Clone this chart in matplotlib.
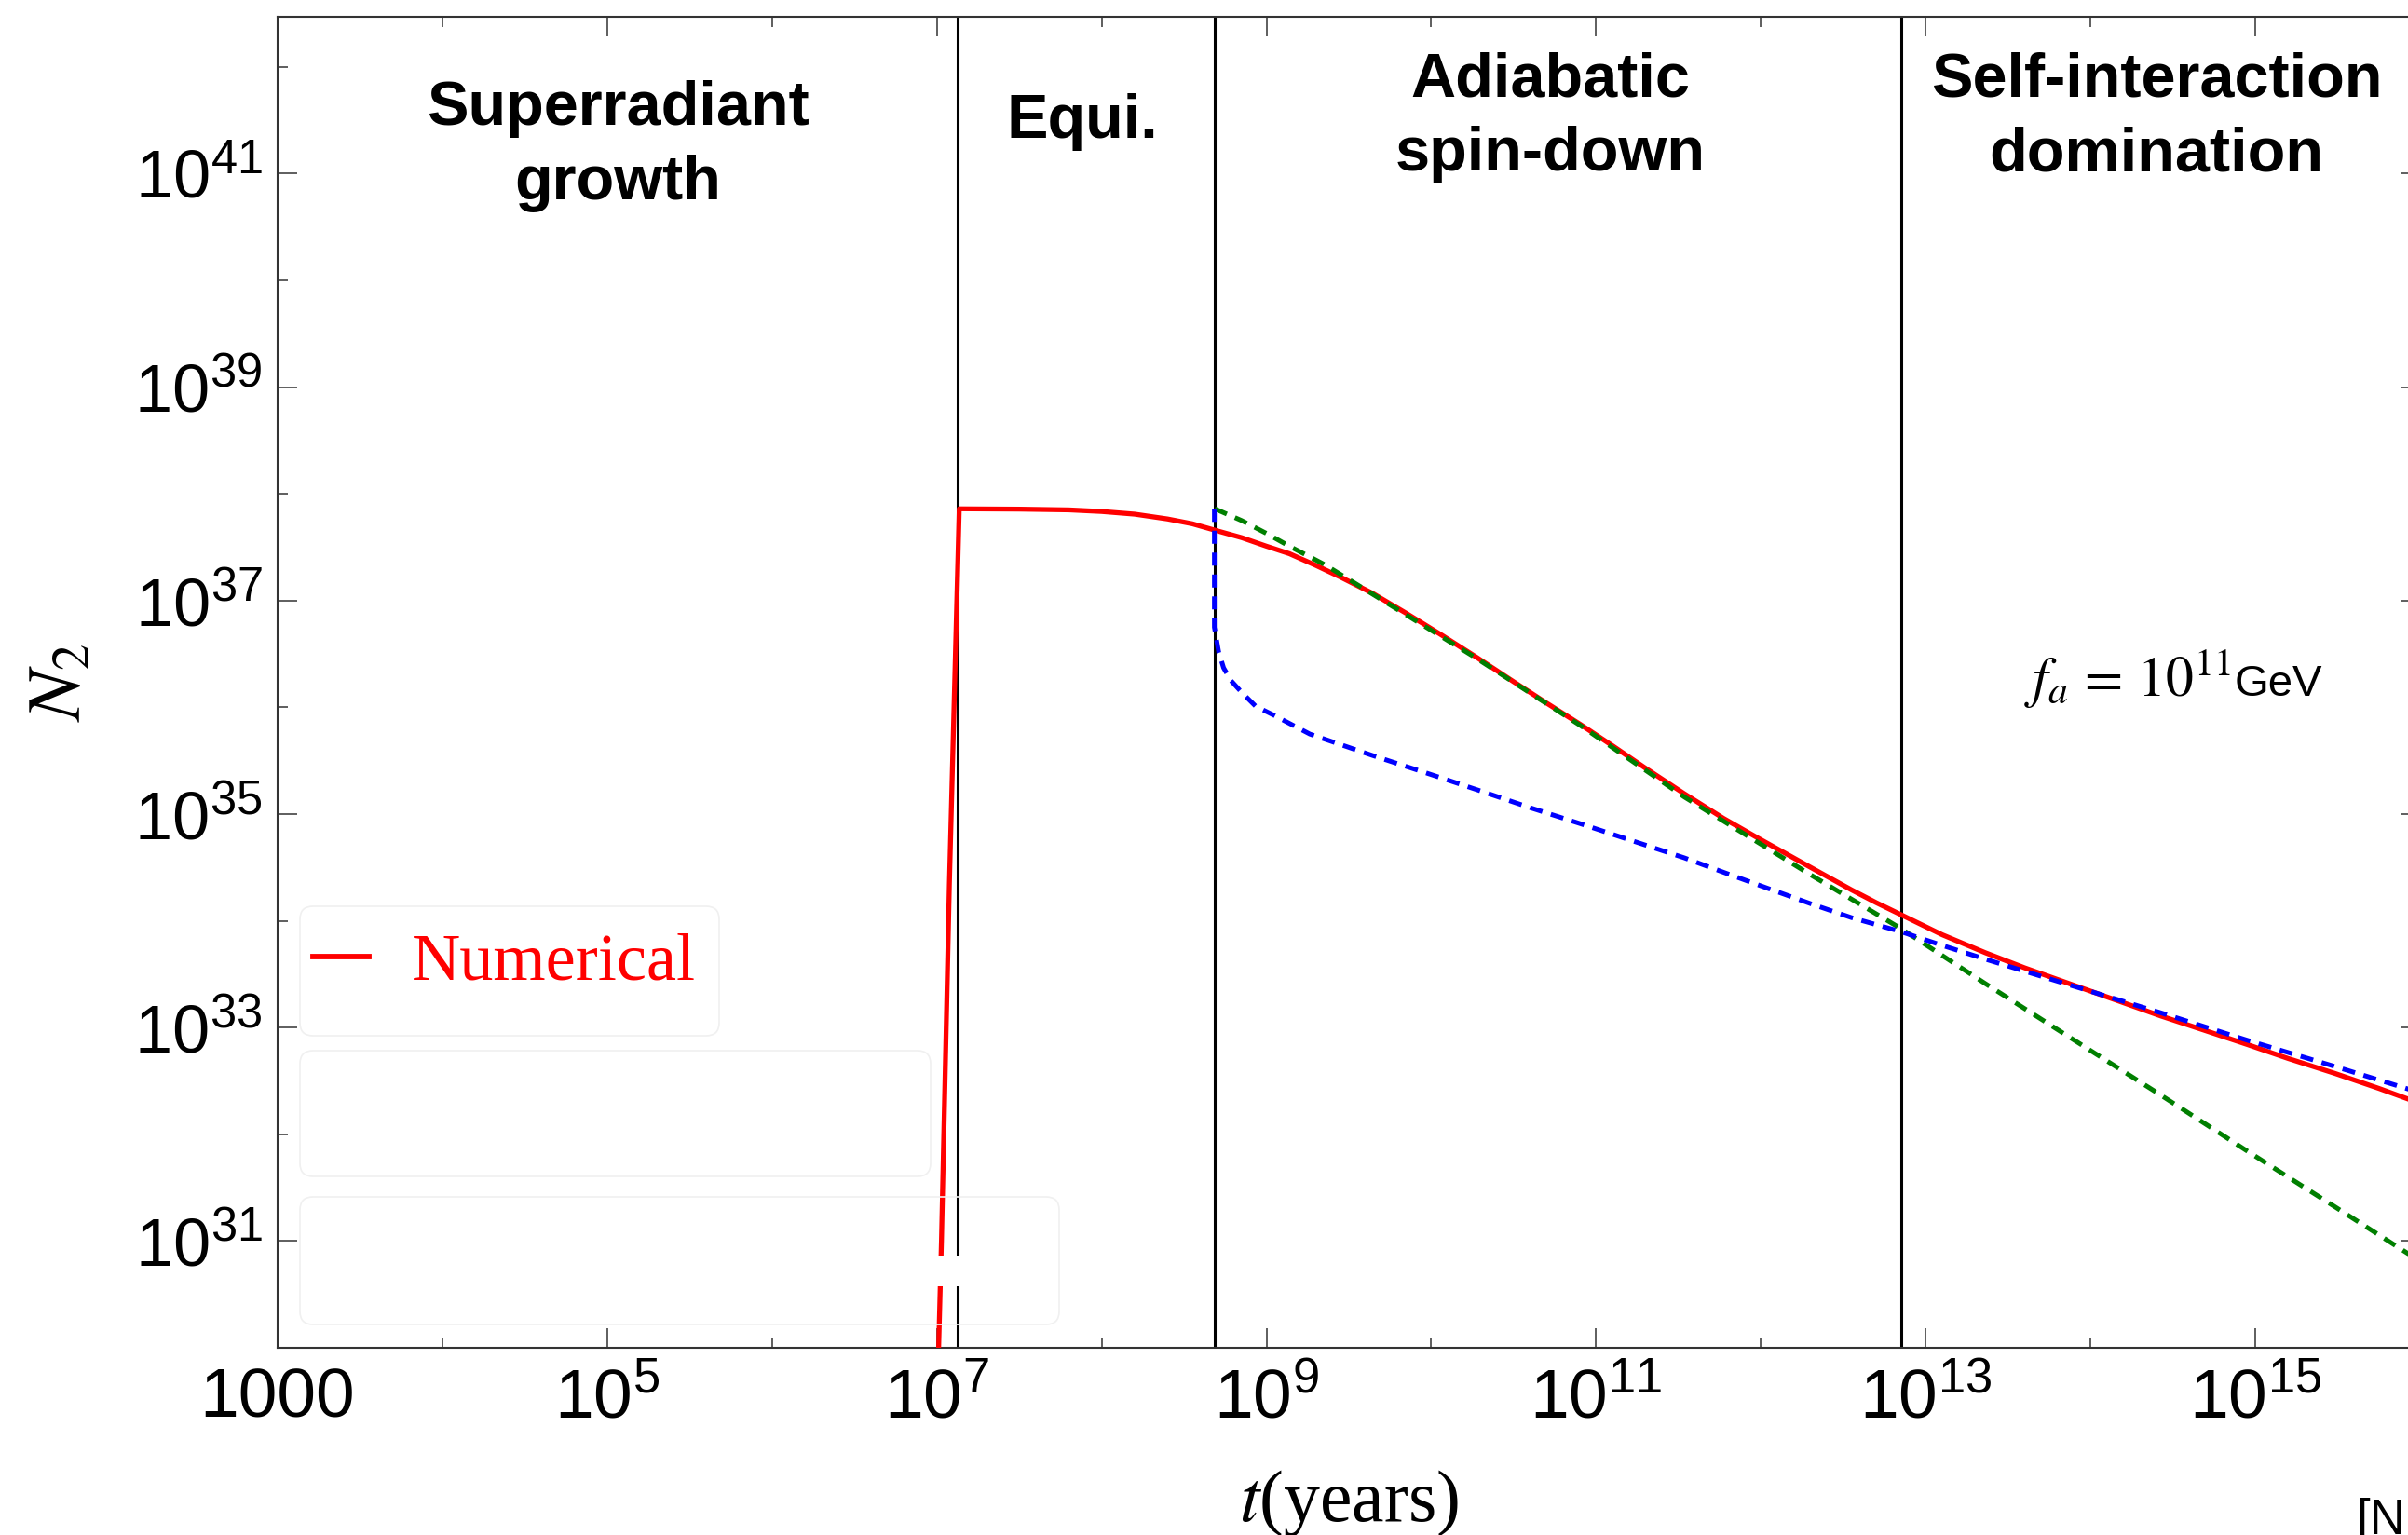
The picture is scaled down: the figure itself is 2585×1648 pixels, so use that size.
import matplotlib
matplotlib.use('Agg')
import matplotlib.pyplot as plt
from matplotlib.lines import Line2D
from matplotlib.patches import FancyBboxPatch, Rectangle
from matplotlib.ticker import NullFormatter

plt.rcParams['font.family'] = 'Liberation Sans'
plt.rcParams['mathtext.fontset'] = 'custom'
plt.rcParams['mathtext.rm'] = 'Liberation Sans'
plt.rcParams['mathtext.it'] = 'Liberation Sans:italic'
plt.rcParams['mathtext.bf'] = 'Liberation Sans:bold'

# values are log10 of t (years) and log10 of N_2
t_num_exp = [7.011, 7.028, 7.076, 7.136, 7.5, 7.8, 8.0, 8.2, 8.4, 8.55, 8.687,
             8.85, 9.0, 9.139, 9.3, 9.45, 9.642, 9.85, 10.05, 10.274, 10.5,
             10.7, 10.905, 11.1, 11.3, 11.536, 11.773, 12.0, 12.303, 12.55,
             12.7, 12.847, 13.1, 13.364, 13.6, 13.893, 14.15, 14.424, 14.7,
             14.954, 15.2, 15.484, 15.75, 16.0]
N_num_exp = [30.0, 31.0, 34.34, 37.86, 37.857, 37.85, 37.835, 37.81, 37.765, 37.72, 37.66,
             37.59, 37.51, 37.44, 37.33, 37.22, 37.07, 36.88, 36.69, 36.47, 36.24,
             36.04, 35.84, 35.64, 35.43, 35.19, 34.96, 34.76, 34.50, 34.29,
             34.17, 34.06, 33.87, 33.70, 33.56, 33.40, 33.26, 33.11, 32.97,
             32.84, 32.71, 32.57, 32.43, 32.29]

# adiabatic approximation (green dashed)
t_adia_exp = [8.687, 8.85, 9.0, 9.139, 9.35, 9.54, 9.897, 10.274, 10.905, 11.536,
              12.303, 12.847, 13.364, 13.893, 14.424, 14.954, 15.484, 16.0]
N_adia_exp = [37.86, 37.75, 37.63, 37.51, 37.34, 37.16, 36.82, 36.46, 35.83, 35.16,
              34.43, 33.93, 33.41, 32.89, 32.37, 31.84, 31.32, 30.81]

# self-interaction approximation (blue dashed)
t_self_exp = [8.684, 8.684, 8.71, 8.74, 8.785, 8.85, 8.935, 9.04, 9.263, 9.642,
              10.0, 10.274, 10.6, 10.905, 11.2, 11.536, 11.8, 12.05, 12.303,
              12.55, 12.847, 13.1, 13.364, 13.893, 14.424, 14.954, 15.484, 16.0]
N_self_exp = [37.86, 36.75, 36.52, 36.37, 36.25, 36.14, 36.01, 35.93, 35.75, 35.55,
              35.37, 35.23, 35.06, 34.91, 34.76, 34.59, 34.44, 34.30, 34.16,
              34.03, 33.90, 33.77, 33.64, 33.39, 33.14, 32.88, 32.635, 32.39]

# phase boundaries (log10 t)
phase_bounds_exp = [7.127, 8.687, 12.85]
phase_names = ['Superradiant\ngrowth', 'Equi.', 'Adiabatic\nspin-down',
               'Self-interaction\ndomination']

x_major_exp = [3, 5, 7, 9, 11, 13, 15]
x_minor_exp = [4, 6, 8, 10, 12, 14, 16]
x_tick_labels = ['1000', '$10^{5}$', '$10^{7}$', '$10^{9}$', '$10^{11}$',
                 '$10^{13}$', '$10^{15}$']
y_major_exp = [31, 33, 35, 37, 39, 41]
y_minor_exp = [32, 34, 36, 38, 40, 42]
y_tick_labels = ['$10^{31}$', '$10^{33}$', '$10^{35}$', '$10^{37}$',
                 '$10^{39}$', '$10^{41}$']

W, H = 2585, 1648
fig = plt.figure(figsize=(W / 100, H / 100), dpi=100)
ax = fig.add_axes([298 / W, (H - 1447) / H, 2300 / W, 1429 / H])
ax.set_xscale('log')
ax.set_yscale('log')
ax.set_xlim(1e3, 1e16)
ax.set_ylim(1e30, 10 ** 42.47)

for e in phase_bounds_exp:
    ax.axvline(10 ** e, color='black', lw=2.2, zorder=2)

ax.plot([10 ** v for v in t_num_exp], [10 ** v for v in N_num_exp],
        color='red', lw=3.8, zorder=3)
ax.plot([10 ** v for v in t_adia_exp], [10 ** v for v in N_adia_exp],
        color='#007f00', lw=3.6, ls=(0, (2.8, 1.9)), zorder=4)
ax.plot([10 ** v for v in t_self_exp], [10 ** v for v in N_self_exp],
        color='blue', lw=3.6, ls=(0, (2.8, 1.9)), zorder=5)

# ticks
ax.set_xticks([10.0 ** e for e in x_major_exp])
ax.set_xticklabels(x_tick_labels)
ax.set_xticks([10.0 ** e for e in x_minor_exp], minor=True)
ax.set_yticks([10.0 ** e for e in y_major_exp])
ax.set_yticklabels(y_tick_labels)
ax.set_yticks([10.0 ** e for e in y_minor_exp], minor=True)
ax.xaxis.set_minor_formatter(NullFormatter())
ax.yaxis.set_minor_formatter(NullFormatter())
ax.tick_params(which='both', direction='in', top=True, right=True,
               color='#333333', width=1.1)
ax.tick_params(which='major', length=15)
ax.tick_params(which='minor', length=8)
ax.tick_params(axis='x', which='major', pad=54, labelsize=54)
ax.tick_params(axis='y', which='major', pad=12, labelsize=52)
for lab in ax.get_xticklabels():
    lab.set_verticalalignment('baseline')
for sp in ax.spines.values():
    sp.set_color('#333333')
    sp.set_linewidth(1.5)

# axis labels
ax.set_xlabel('$t$(years)', fontsize=56, family='Liberation Serif',
              math_fontfamily='stix')
ax.xaxis.set_label_coords(0.5, -0.130)
ax.xaxis.label.set_verticalalignment('baseline')
ax.set_ylabel('$N_2$', fontsize=58, math_fontfamily='stix')
ax.yaxis.set_label_coords(-0.1013, 0.5)
ax.yaxis.label.set_verticalalignment('center')

# phase titles
title_x = [0.1587, 0.3757, 0.5939, 0.877]
title_y = [0.8628, 0.909, 0.8845, 0.8845]
for name, xx, yy in zip(phase_names, title_x, title_y):
    ax.text(xx, yy, name, transform=ax.transAxes, ha='center', va='baseline',
            fontsize=48, fontweight='bold', linespacing=1.37, multialignment='center')

# f_a annotation
ax.text(0.9115, 0.4899, '$f_a \\,=\\, 10^{11}$', transform=ax.transAxes, ha='right',
        va='baseline', fontsize=43, math_fontfamily='stix')
ax.text(0.9135, 0.4899, 'GeV', transform=ax.transAxes, ha='left',
        va='baseline', fontsize=34)

# legend
num_handle = Line2D([], [], color='red', lw=4.2)
ax.legend([num_handle], ['Numerical'], loc='center left',
          bbox_to_anchor=(0.0165, 0.289), frameon=False,
          prop={'family': 'Liberation Serif', 'size': 52}, labelcolor='red',
          handlelength=0.83, handletextpad=0.64, borderpad=0, borderaxespad=0)

# faint leftover legend frames and white mask (in inches)
for (x0, y0, x1, y1) in [(322, 973, 772, 1112), (322, 1128, 999, 1263),
                         (322, 1285, 1137, 1422)]:
    fig.add_artist(FancyBboxPatch((x0 / 100, (H - y1) / 100), (x1 - x0) / 100,
                                  (y1 - y0) / 100,
                                  boxstyle='round,pad=0,rounding_size=0.14',
                                  transform=fig.dpi_scale_trans,
                                  facecolor='none', edgecolor='#f0f0f0', lw=1.2))
fig.add_artist(Rectangle((1000 / 100, (H - 1381) / 100), 0.33, 0.33,
                         transform=fig.dpi_scale_trans, facecolor='white',
                         edgecolor='none', zorder=5))

fig.text(2529 / W, 1 - 1608 / H, '[N', ha='left', va='top', fontsize=38)

fig.savefig('out.png', dpi=100)
